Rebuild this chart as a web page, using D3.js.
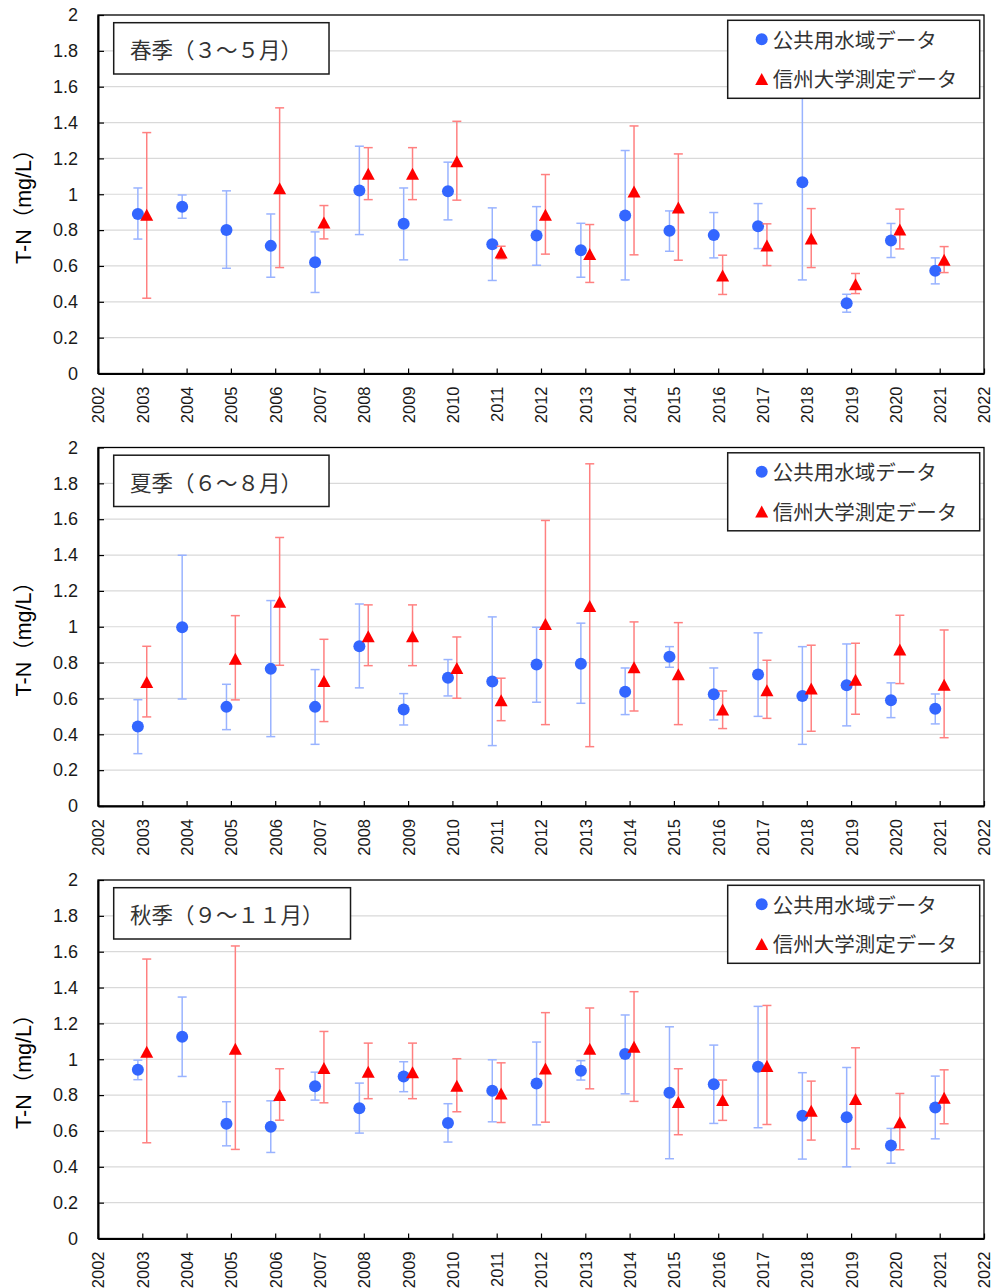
<!DOCTYPE html>
<html>
<head>
<meta charset="utf-8">
<script src="https://cdn.jsdelivr.net/npm/d3@7"></script>
<style>
  html, body { margin: 0; padding: 0; background: #fff; }
  svg { display: block; }
</style>
</head>
<body>
<svg id="chart" width="993" height="1288"></svg>
<script>
// Years on the x axis and the tick labels
const years = d3.range(2003, 2022);
const xTickYears = d3.range(2002, 2023);
const yTicks = [0, 0.2, 0.4, 0.6, 0.8, 1, 1.2, 1.4, 1.6, 1.8, 2];
const yTickLabels = ["0", "0.2", "0.4", "0.6", "0.8", "1", "1.2", "1.4", "1.6", "1.8", "2"];

// Season titles and legend labels
const seasonTitles = ["春季（３～５月）", "夏季（６～８月）", "秋季（９～１１月）"];
const seriesNames = ["公共用水域データ", "信州大学測定データ"];
const yTitle = "T-N（mg/L）";

// T-N values per year: [mean, lower, upper] (mg/L); null where not measured
const springPublic = [
  [0.890, 0.750, 1.035], [0.930, 0.866, 0.996], [0.800, 0.587, 1.019], [0.712, 0.537, 0.890],
  [0.621, 0.452, 0.790], [1.021, 0.775, 1.268], [0.835, 0.634, 1.035], [1.017, 0.857, 1.179],
  [0.721, 0.519, 0.924], [0.770, 0.604, 0.931], [0.688, 0.537, 0.838], [0.881, 0.522, 1.244],
  [0.796, 0.682, 0.907], [0.772, 0.645, 0.898], [0.822, 0.697, 0.948], [1.067, 0.522, 1.620],
  [0.392, 0.342, 0.442], [0.742, 0.647, 0.837], [0.573, 0.500, 0.645]
];
const springShinshu = [
  [0.885, 0.420, 1.344], null, null, [1.034, 0.591, 1.482],
  [0.842, 0.751, 0.937], [1.114, 0.970, 1.260], [1.114, 0.970, 1.260], [1.184, 0.967, 1.407],
  [0.675, 0.640, 0.710], [0.885, 0.666, 1.110], [0.666, 0.508, 0.831], [1.015, 0.662, 1.381],
  [0.926, 0.632, 1.225], [0.547, 0.441, 0.660], [0.714, 0.602, 0.835], [0.753, 0.591, 0.920],
  [0.498, 0.446, 0.558], [0.803, 0.695, 0.917], [0.634, 0.563, 0.708]
];
const summerPublic = [
  [0.443, 0.292, 0.593], [0.997, 0.597, 1.399], [0.553, 0.426, 0.679], [0.765, 0.387, 1.146],
  [0.553, 0.344, 0.761], [0.891, 0.659, 1.127], [0.538, 0.452, 0.627], [0.716, 0.614, 0.817],
  [0.694, 0.337, 1.055], [0.789, 0.579, 0.997], [0.794, 0.573, 1.020], [0.638, 0.510, 0.770],
  [0.832, 0.774, 0.889], [0.623, 0.480, 0.770], [0.733, 0.500, 0.966], [0.614, 0.344, 0.889],
  [0.673, 0.447, 0.904], [0.590, 0.493, 0.687], [0.543, 0.458, 0.625]
];
const summerShinshu = [
  [0.692, 0.497, 0.891], null, [0.822, 0.592, 1.062], [1.139, 0.785, 1.498],
  [0.698, 0.471, 0.930], [0.947, 0.783, 1.122], [0.947, 0.783, 1.122], [0.770, 0.601, 0.943],
  [0.590, 0.476, 0.713], [1.016, 0.454, 1.593], [1.116, 0.331, 1.909], [0.774, 0.530, 1.027],
  [0.735, 0.454, 1.023], [0.538, 0.432, 0.642], [0.646, 0.489, 0.813], [0.655, 0.417, 0.897],
  [0.705, 0.512, 0.908], [0.873, 0.683, 1.064], [0.677, 0.381, 0.982]
];
const autumnPublic = [
  [0.941, 0.886, 0.995], [1.126, 0.904, 1.347], [0.640, 0.517, 0.763], [0.623, 0.480, 0.768],
  [0.850, 0.772, 0.928], [0.727, 0.588, 0.867], [0.904, 0.819, 0.986], [0.644, 0.538, 0.752],
  [0.824, 0.651, 0.997], [0.865, 0.634, 1.096], [0.936, 0.884, 0.992], [1.029, 0.807, 1.247],
  [0.813, 0.445, 1.181], [0.860, 0.642, 1.079], [0.958, 0.618, 1.295], [0.685, 0.443, 0.925],
  [0.677, 0.400, 0.954], [0.519, 0.420, 0.614], [0.731, 0.556, 0.906]
];
const autumnShinshu = [
  [1.042, 0.534, 1.559], null, [1.059, 0.497, 1.632], [0.800, 0.660, 0.947],
  [0.951, 0.757, 1.155], [0.930, 0.780, 1.090], [0.928, 0.780, 1.090], [0.852, 0.707, 1.003],
  [0.809, 0.647, 0.980], [0.949, 0.649, 1.260], [1.059, 0.835, 1.286], [1.070, 0.765, 1.377],
  [0.761, 0.579, 0.947], [0.772, 0.659, 0.884], [0.962, 0.636, 1.300], [0.713, 0.549, 0.878],
  [0.778, 0.500, 1.064], [0.649, 0.495, 0.809], [0.785, 0.640, 0.941]
];

const seasons = [
  { title: seasonTitles[0], pub: springPublic, shin: springShinshu },
  { title: seasonTitles[1], pub: summerPublic, shin: summerShinshu },
  { title: seasonTitles[2], pub: autumnPublic, shin: autumnShinshu }
];

// Styling
const BLUE = "#3366ff", BLUE_BAR = "#99b3ff";
const RED = "#ff0000", RED_BAR = "#ff8080";
const LATIN = "'Liberation Sans', Arial, sans-serif";
const CJK = "'Noto Sans CJK JP', 'Noto Sans', sans-serif";
const MIXED = "'Liberation Sans', 'Noto Sans CJK JP', sans-serif";

const svg = d3.select("#chart");
const plotLeft = 98, plotRight = 984;
const panelStep = 432.5, plotHeight = 358.5, firstTop = 15;
const offset = 0.1;   // horizontal shift of each series from the year tick
const capHalf = 4.5;
const triW = 13, triH = 12;
const dotR = 6;

const x = d3.scaleLinear().domain([2002, 2022]).range([plotLeft, plotRight]);

seasons.forEach((s, i) => {
  const top = firstTop + i * panelStep;
  const bottom = top + plotHeight;
  const y = d3.scaleLinear().domain([0, 2]).range([bottom, top]);
  const g = svg.append("g");

  // horizontal gridlines
  g.append("g").selectAll("line")
    .data(yTicks.filter(v => v > 0 && v < 2))
    .join("line")
    .attr("x1", plotLeft).attr("x2", plotRight)
    .attr("y1", d => y(d)).attr("y2", d => y(d))
    .attr("stroke", "#d9d9d9").attr("stroke-width", 1.2);

  // plot area border
  g.append("rect")
    .attr("x", plotLeft).attr("y", top)
    .attr("width", plotRight - plotLeft).attr("height", plotHeight)
    .attr("fill", "none").attr("stroke", "#000").attr("stroke-width", 1.3);

  // y axis
  const yAxis = d3.axisLeft(y).tickValues(yTicks)
    .tickFormat((d, k) => yTickLabels[k])
    .tickSizeInner(-6).tickSizeOuter(0).tickPadding(20);
  const ya = g.append("g").attr("transform", `translate(${plotLeft},0)`).call(yAxis);
  ya.select(".domain").attr("stroke", "#000").attr("stroke-width", 2);
  ya.selectAll(".tick line").attr("stroke", "#000").attr("stroke-width", 1.2);
  ya.selectAll(".tick text")
    .attr("font-family", LATIN).attr("font-size", 18).attr("fill", "#1a1a1a");

  // x axis
  const xAxis = d3.axisBottom(x).tickValues(xTickYears)
    .tickFormat(d3.format("d"))
    .tickSizeInner(-5).tickSizeOuter(0);
  const xa = g.append("g").attr("transform", `translate(0,${bottom})`).call(xAxis);
  xa.select(".domain").attr("stroke", "#000").attr("stroke-width", 2);
  xa.selectAll(".tick line").attr("stroke", "#000").attr("stroke-width", 1.2);
  xa.selectAll(".tick text")
    .attr("transform", "rotate(-90)")
    .attr("x", -13).attr("y", 0).attr("dy", "0.36em")
    .attr("text-anchor", "end")
    .attr("font-family", LATIN).attr("font-size", 16.5).attr("fill", "#1a1a1a");

  // y axis title
  g.append("text")
    .attr("transform", `translate(24,${top + plotHeight / 2 + 7}) rotate(-90)`)
    .attr("text-anchor", "middle").attr("dominant-baseline", "central")
    .attr("font-family", MIXED).attr("font-size", 21.5).attr("fill", "#000")
    .text(yTitle);

  // one series: error bars then markers
  function drawSeries(data, dx, barColor, marker) {
    const pts = years.map((yr, k) => data[k] ? { yr, v: data[k][0], lo: data[k][1], hi: data[k][2] } : null)
      .filter(d => d);
    const sg = g.append("g");
    const bars = sg.append("g").attr("stroke", barColor).attr("stroke-width", 1.5);
    bars.selectAll("line.v").data(pts).join("line").attr("class", "v")
      .attr("x1", d => x(d.yr + dx)).attr("x2", d => x(d.yr + dx))
      .attr("y1", d => y(d.lo)).attr("y2", d => y(d.hi));
    bars.selectAll("line.hi").data(pts).join("line").attr("class", "hi")
      .attr("x1", d => x(d.yr + dx) - capHalf).attr("x2", d => x(d.yr + dx) + capHalf)
      .attr("y1", d => y(d.hi)).attr("y2", d => y(d.hi));
    bars.selectAll("line.lo").data(pts).join("line").attr("class", "lo")
      .attr("x1", d => x(d.yr + dx) - capHalf).attr("x2", d => x(d.yr + dx) + capHalf)
      .attr("y1", d => y(d.lo)).attr("y2", d => y(d.lo));
    marker(sg.append("g"), pts.map(d => [x(d.yr + dx), y(d.v)]));
  }
  const circles = (sel, pos) => sel.selectAll("circle").data(pos).join("circle")
    .attr("cx", d => d[0]).attr("cy", d => d[1]).attr("r", dotR).attr("fill", BLUE);
  const triPath = `M0,${-triH / 2}L${triW / 2},${triH / 2}L${-triW / 2},${triH / 2}Z`;
  const triangles = (sel, pos) => sel.selectAll("path").data(pos).join("path")
    .attr("d", triPath).attr("transform", d => `translate(${d[0]},${d[1]})`).attr("fill", RED);

  drawSeries(s.pub, -offset, BLUE_BAR, circles);
  drawSeries(s.shin, offset, RED_BAR, triangles);

  // season title box
  const tb = g.append("g");
  const tRect = tb.append("rect");
  const tText = tb.append("text")
    .attr("x", 130).attr("y", top + 33.5)
    .attr("dominant-baseline", "central")
    .attr("font-family", CJK).attr("font-size", 21.5).attr("fill", "#333")
    .text(s.title);
  const tLen = tText.node().getComputedTextLength();
  tRect.attr("x", 113.7).attr("y", top + 7.7)
    .attr("width", tLen + 16.3 + 27).attr("height", 51.3)
    .attr("fill", "#fff").attr("stroke", "#1a1a1a").attr("stroke-width", 1.5);

  // legend
  const lg = g.append("g");
  lg.append("rect")
    .attr("x", 727.7).attr("y", top + 5.3).attr("width", 252).attr("height", 78)
    .attr("fill", "#fff").attr("stroke", "#1a1a1a").attr("stroke-width", 1.5);
  lg.append("circle").attr("cx", 761.7).attr("cy", top + 24.3).attr("r", dotR).attr("fill", BLUE);
  lg.append("path").attr("d", triPath)
    .attr("transform", `translate(761.7,${top + 64})`).attr("fill", RED);
  lg.selectAll("text").data(seriesNames).join("text")
    .attr("x", 772.7).attr("y", (d, k) => top + 23.5 + k * 39.7)
    .attr("dominant-baseline", "central")
    .attr("font-family", CJK).attr("font-size", 20.5).attr("fill", "#333")
    .text(d => d);
});
</script>
</body>
</html>
